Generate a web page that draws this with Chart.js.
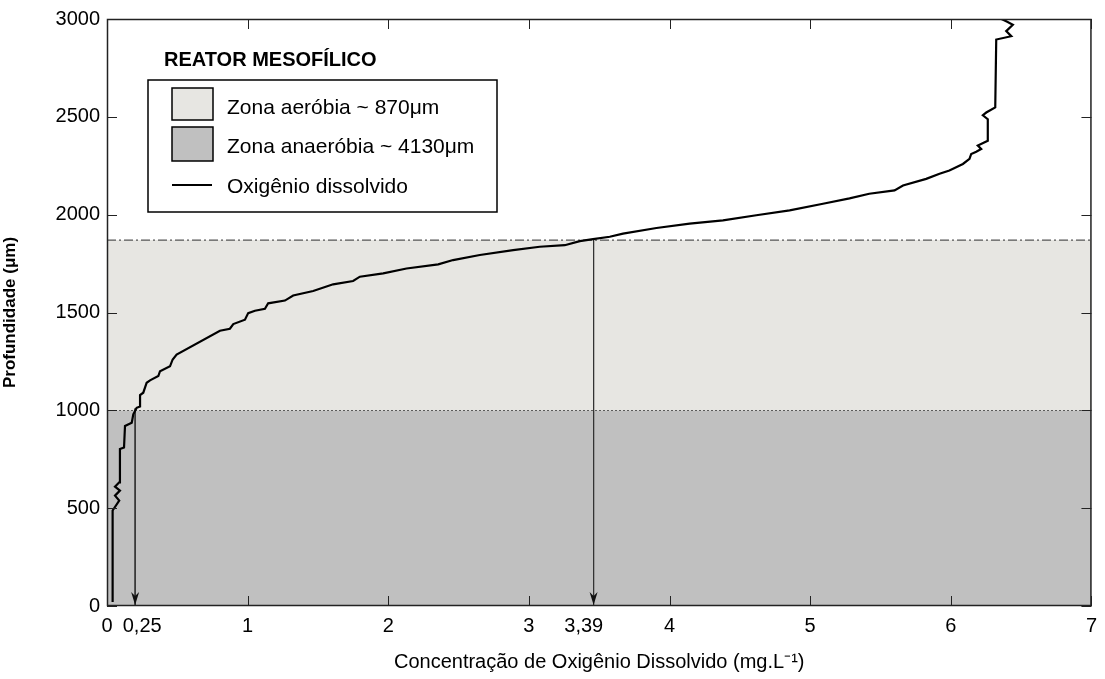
<!DOCTYPE html>
<html>
<head>
<meta charset="utf-8">
<script src="https://cdn.jsdelivr.net/npm/chart.js@4.4.0/dist/chart.umd.min.js"></script>
<style>
  html, body { margin: 0; padding: 0; background: #fff; }
  #wrap { width: 1105px; height: 679px; }
</style>
</head>
<body>
<div id="wrap"><canvas id="perfil"></canvas></div>
<script>
// Perfil de OD (concentração em mg/L, profundidade em µm)
const conc = [0.04, 0.04, 0.087, 0.057, 0.092, 0.057, 0.087, 0.092, 0.121, 0.128, 0.176, 0.187, 0.211, 0.235, 0.235,
  0.258, 0.282, 0.306, 0.365, 0.377, 0.448, 0.467, 0.495, 0.803, 0.874, 0.898, 0.981, 1.004, 1.052, 1.123, 1.146,
  1.265, 1.324, 1.466, 1.608, 1.75, 1.798, 1.964, 2.13, 2.355, 2.461, 2.651, 2.888, 3.077, 3.255, 3.362, 3.456,
  3.575, 3.669, 3.907, 4.143, 4.38, 4.617, 4.854, 5.091, 5.28, 5.42, 5.6, 5.66, 5.825, 5.92, 5.99, 6.086, 6.133,
  6.145, 6.181, 6.216, 6.192, 6.263, 6.263, 6.228, 6.252, 6.316, 6.323, 6.43, 6.394, 6.441, 6.394, 6.36];
const depth = [20, 488, 539, 564, 590, 610, 632, 802, 810, 920, 937, 980, 1013, 1020, 1078,
  1090, 1141, 1153, 1175, 1200, 1225, 1260, 1285, 1407, 1417, 1441, 1463, 1497, 1509, 1519, 1547,
  1561, 1587, 1610, 1644, 1661, 1683, 1700, 1725, 1746, 1768, 1794, 1819, 1836, 1844, 1865, 1875,
  1887, 1903, 1932, 1954, 1971, 1997, 2022, 2056, 2083, 2107, 2124, 2149, 2183, 2209, 2226, 2259, 2285,
  2310, 2322, 2336, 2353, 2378, 2488, 2508, 2522, 2548, 2895, 2912, 2938, 2971, 2988, 3000];

// limites das zonas
const aerobicTop = 1870;
const anaerobicTop = 1000;

// setas indicando a concentração nos limites
const arrowX = [0.2, 3.46];
const arrowTop = [1010, 1870];

const xTicks = [0, 0.25, 1, 2, 3, 3.39, 4, 5, 6, 7];
const xMajor = [0, 1, 2, 3, 4, 5, 6, 7];
const yTicks = [0, 500, 1000, 1500, 2000, 2500, 3000];

const legendTitle = 'REATOR MESOFÍLICO';
const legendLabels = ['Zona aeróbia ~ 870μm', 'Zona anaeróbia ~ 4130μm', 'Oxigênio dissolvido'];

const LIGHT = '#e7e6e2';
const DARK = '#c0c0c0';
const FONT = '"Liberation Sans", Arial, sans-serif';

const xMin = 0, xMax = 7;

const curve = conc.map((c, i) => ({ x: c, y: depth[i] }));

const arrowSets = arrowX.map((ax, i) => ({
  data: [{ x: ax, y: arrowTop[i] }, { x: ax, y: 0 }],
  showLine: true,
  borderColor: '#333',
  borderWidth: 1,
  pointRadius: 0,
  fill: false
}));

// eixos em caixa, ticks para dentro, pontas das setas e legenda
const framePlugin = {
  id: 'frame',
  afterDatasetsDraw(chart) {
    const { ctx, chartArea: a, scales: { x, y } } = chart;
    ctx.save();
    ctx.strokeStyle = '#222';
    ctx.lineWidth = 1;
    ctx.beginPath();
    xMajor.forEach(v => {
      const px = Math.round(x.getPixelForValue(v)) + 0.5;
      ctx.moveTo(px, a.bottom); ctx.lineTo(px, a.bottom - 10);
      ctx.moveTo(px, a.top); ctx.lineTo(px, a.top + 10);
    });
    yTicks.forEach(v => {
      const py = Math.round(y.getPixelForValue(v)) + 0.5;
      ctx.moveTo(a.left, py); ctx.lineTo(a.left + 10, py);
      ctx.moveTo(a.right, py); ctx.lineTo(a.right - 10, py);
    });
    ctx.stroke();

    // pontas das setas
    ctx.fillStyle = '#111';
    arrowX.forEach(ax => {
      const px = x.getPixelForValue(ax);
      const tip = y.getPixelForValue(0) - 1;
      ctx.beginPath();
      ctx.moveTo(px, tip);
      ctx.lineTo(px - 4, tip - 13);
      ctx.lineTo(px, tip - 9);
      ctx.lineTo(px + 4, tip - 13);
      ctx.closePath();
      ctx.fill();
    });

    ctx.lineWidth = 1.5;
    ctx.strokeRect(a.left + 0.5, a.top + 0.5, a.width - 1, a.height - 1);
    ctx.restore();
  },
  afterDraw(chart) {
    const ctx = chart.ctx;
    ctx.save();
    ctx.fillStyle = '#000';
    ctx.font = 'bold 20px ' + FONT;
    ctx.textBaseline = 'alphabetic';
    ctx.fillText(legendTitle, 164, 66);

    ctx.fillStyle = '#fff';
    ctx.fillRect(148, 80, 349, 132);
    ctx.strokeStyle = '#000';
    ctx.lineWidth = 1.5;
    ctx.strokeRect(148, 80, 349, 132);

    ctx.fillStyle = LIGHT;
    ctx.fillRect(172, 88, 41, 32);
    ctx.strokeRect(172, 88, 41, 32);
    ctx.fillStyle = DARK;
    ctx.fillRect(172, 127, 41, 34);
    ctx.strokeRect(172, 127, 41, 34);
    ctx.lineWidth = 2;
    ctx.beginPath();
    ctx.moveTo(172, 185); ctx.lineTo(212, 185);
    ctx.stroke();

    ctx.fillStyle = '#000';
    ctx.font = '21px ' + FONT;
    ctx.fillText(legendLabels[0], 227, 114);
    ctx.fillText(legendLabels[1], 227, 153);
    ctx.fillText(legendLabels[2], 227, 193);
    ctx.restore();
  }
};

new Chart(document.getElementById('perfil'), {
  type: 'scatter',
  data: {
    datasets: [
      {
        label: 'Oxigênio dissolvido',
        data: curve,
        showLine: true,
        borderColor: '#000',
        borderWidth: 2.2,
        pointRadius: 0,
        fill: false
      },
      ...arrowSets,
      {
        label: 'Zona aeróbia',
        data: [{ x: xMin, y: aerobicTop }, { x: xMax, y: aerobicTop }],
        showLine: true,
        borderColor: '#555',
        borderWidth: 1.2,
        borderDash: [9, 3, 2, 3],
        backgroundColor: LIGHT,
        pointRadius: 0,
        fill: { value: anaerobicTop }
      },
      {
        label: 'Zona anaeróbia',
        data: [{ x: xMin, y: anaerobicTop }, { x: xMax, y: anaerobicTop }],
        showLine: true,
        borderColor: '#222',
        borderWidth: 1.2,
        borderDash: [2, 2],
        backgroundColor: DARK,
        pointRadius: 0,
        fill: 'origin'
      }
    ]
  },
  options: {
    responsive: true,
    maintainAspectRatio: false,
    animation: false,
    layout: { padding: { left: 0, right: 13, top: 16, bottom: 0 } },
    plugins: {
      legend: { display: false },
      tooltip: { enabled: false }
    },
    scales: {
      x: {
        type: 'linear',
        min: xMin,
        max: xMax,
        afterBuildTicks: s => { s.ticks = xTicks.map(v => ({ value: v })); },
        afterFit: s => { s.height = 73; },
        grid: { display: false, drawTicks: false },
        border: { display: false },
        ticks: {
          autoSkip: false,
          maxRotation: 0,
          padding: 8,
          color: '#000',
          font: { family: FONT, size: 20 },
          callback: v => String(v).replace('.', ',')
        },
        title: {
          display: true,
          text: 'Concentração de Oxigênio Dissolvido (mg.L⁻¹)',
          color: '#000',
          font: { family: FONT, size: 20 },
          padding: { top: 0, bottom: 5 }
        }
      },
      y: {
        type: 'linear',
        min: 0,
        max: 3000,
        afterBuildTicks: s => { s.ticks = yTicks.map(v => ({ value: v })); },
        afterFit: s => { s.width = 107; },
        grid: { display: false, drawTicks: false },
        border: { display: false },
        ticks: {
          padding: 7,
          color: '#000',
          font: { family: FONT, size: 20 },
          callback: v => String(v)
        },
        title: {
          display: true,
          text: 'Profundidade (μm)',
          color: '#000',
          font: { family: FONT, size: 17, weight: 'bold' },
          padding: { top: 0, bottom: 6 }
        }
      }
    }
  },
  plugins: [framePlugin]
});
</script>
</body>
</html>
